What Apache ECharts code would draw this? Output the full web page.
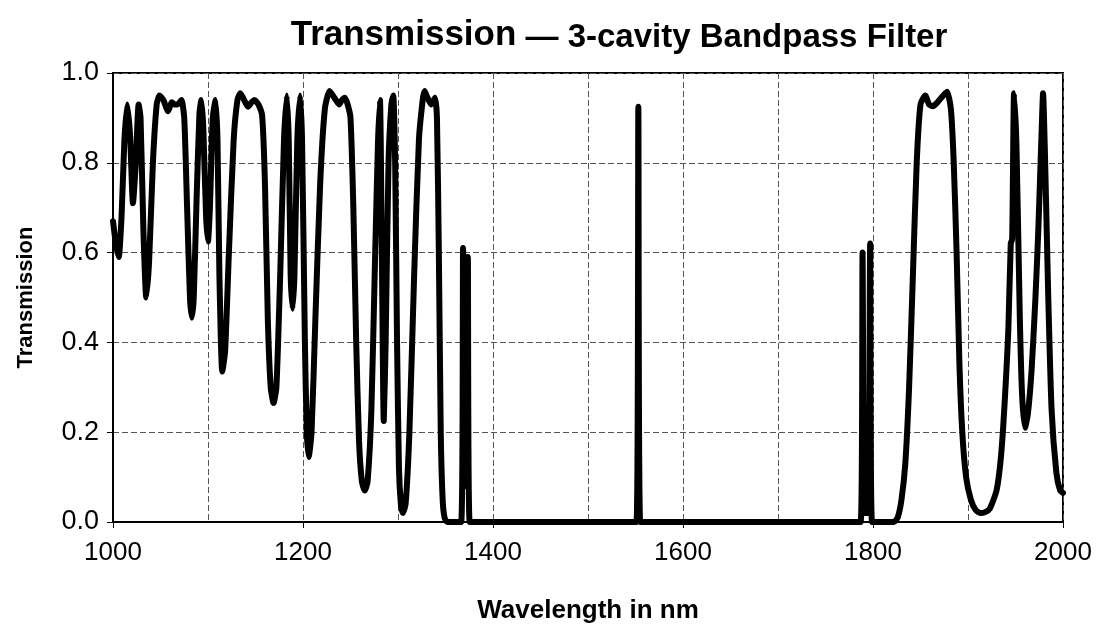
<!DOCTYPE html>
<html>
<head>
<meta charset="utf-8">
<script src="https://cdn.jsdelivr.net/npm/echarts@6/dist/echarts.min.js"></script>
<style>
  html, body { margin: 0; padding: 0; background: #fff; }
  #chart { width: 1102px; height: 629px; }
</style>
</head>
<body>
<div id="chart"></div>
<script>
// wavelength (nm) and transmission
var wavelength = [
  1000, 1003, 1006, 1009, 1012, 1015, 1018, 1021, 1024, 1027, 1029, 1032, 1035, 1038, 1042, 1046, 1049,
  1053, 1058, 1062, 1065, 1068, 1072, 1075, 1078, 1081, 1083, 1085, 1088, 1091, 1093, 1095, 1098, 1100,
  1102, 1105, 1108, 1110, 1112, 1115, 1118, 1122, 1127, 1131, 1134, 1138, 1142, 1146, 1149, 1153, 1157,
  1160, 1163, 1166, 1169, 1172, 1176, 1180, 1183, 1185, 1187, 1189, 1191, 1194, 1197, 1199, 1202, 1204,
  1206, 1209, 1213, 1218, 1223, 1228, 1233, 1238, 1241, 1244, 1247, 1250, 1253, 1256, 1259, 1262, 1265,
  1268, 1272, 1276, 1279, 1281, 1283, 1285, 1287, 1290, 1293, 1295, 1297, 1299, 1301, 1303, 1305, 1308,
  1312, 1317, 1322, 1326, 1328, 1331, 1335, 1339, 1341, 1343, 1345, 1347, 1349, 1352,
  1366.5, 1368.5, 1370.5, 1371.5, 1373.5, 1375.5,
  1551, 1553, 1555,
  1787, 1789, 1791, 1795, 1797, 1799,
  1822, 1826, 1830, 1834, 1838, 1842, 1846, 1850, 1855, 1859, 1863, 1868, 1874, 1878, 1882, 1885, 1888,
  1891, 1894, 1898, 1903, 1908, 1913, 1918, 1923, 1930, 1934, 1937, 1940, 1942.5, 1945, 1946.5, 1948.5,
  1951, 1954.5, 1957, 1960, 1963, 1967, 1971, 1974, 1977.5, 1979, 1981, 1984.5, 1988, 1993, 1997, 2000
];
var transmission = [
  0.67, 0.62, 0.59, 0.68, 0.85, 0.93, 0.86, 0.71, 0.80, 0.93, 0.90, 0.65, 0.50, 0.58, 0.80, 0.93, 0.95,
  0.94, 0.915, 0.935, 0.93, 0.93, 0.94, 0.90, 0.70, 0.50, 0.455, 0.50, 0.72, 0.91, 0.94, 0.88, 0.68, 0.625,
  0.70, 0.90, 0.94, 0.85, 0.55, 0.335, 0.38, 0.60, 0.85, 0.94, 0.955, 0.94, 0.925, 0.935, 0.94, 0.93, 0.905,
  0.75, 0.45, 0.30, 0.265, 0.30, 0.55, 0.85, 0.95, 0.85, 0.55, 0.475, 0.55, 0.85, 0.95, 0.85, 0.40, 0.20,
  0.145, 0.20, 0.45, 0.75, 0.92, 0.96, 0.945, 0.93, 0.94, 0.945, 0.93, 0.90, 0.70, 0.40, 0.18, 0.09, 0.07,
  0.09, 0.25, 0.60, 0.85, 0.94, 0.60, 0.225, 0.40, 0.80, 0.93, 0.95, 0.80, 0.40, 0.12, 0.04, 0.02, 0.04,
  0.20, 0.55, 0.85, 0.94, 0.96, 0.945, 0.93, 0.945, 0.90, 0.60, 0.20, 0.05, 0.01, 0.0,
  0.0, 0.61, 0.08, 0.08, 0.59, 0.0,
  0.0, 0.925, 0.0,
  0.0, 0.60, 0.02, 0.02, 0.62, 0.0,
  0.0, 0.01, 0.05, 0.13, 0.30, 0.55, 0.80, 0.93, 0.95, 0.93, 0.926, 0.935, 0.95, 0.958, 0.92, 0.80, 0.60,
  0.35, 0.20, 0.10, 0.05, 0.027, 0.02, 0.022, 0.03, 0.07, 0.13, 0.21, 0.32, 0.43, 0.62, 0.63, 0.955,
  0.84, 0.46, 0.28, 0.21, 0.24, 0.34, 0.50, 0.65, 0.87, 0.955, 0.82, 0.50, 0.25, 0.11, 0.07, 0.065
];
var xTicks = [1000, 1200, 1400, 1600, 1800, 2000];
var yTicks = [0.0, 0.2, 0.4, 0.6, 0.8, 1.0];

var points = []
for (var i = 0; i < wavelength.length; i++) {
  points.push([wavelength[i], transmission[i]])
}

var chart = echarts.init(document.getElementById('chart'), null, { renderer: 'canvas' })
var gridStyle = { color: '#555', width: 1, type: [6, 3] }

var option = {
  animation: false,
  backgroundColor: '#fff',
  textStyle: { fontFamily: 'Liberation Sans, Arial, sans-serif', color: '#000' },
  title: {
    text: '{a|Transmission}{b| \u2014 3-cavity Bandpass Filter}',
    left: 614,
    top: 12,
    textAlign: 'center',
    textStyle: {
      rich: {
        a: { fontSize: 35, fontWeight: 'bold', color: '#000', fontFamily: 'Liberation Sans, Arial, sans-serif' },
        b: { fontSize: 33, fontWeight: 'bold', color: '#000', fontFamily: 'Liberation Sans, Arial, sans-serif', padding: [4, 0, 0, 0] }
      }
    }
  },
  grid: {
    left: 113, right: 39, top: 73, bottom: 106,
    show: true, borderColor: '#000', borderWidth: 2
  },
  xAxis: {
    type: 'value',
    min: xTicks[0],
    max: xTicks[xTicks.length - 1],
    interval: 200,
    name: 'Wavelength in nm',
    nameLocation: 'middle',
    nameGap: 76,
    nameTextStyle: { fontSize: 26, fontWeight: 'bold', color: '#000' },
    axisLine: { lineStyle: { color: '#000', width: 2 } },
    axisTick: { show: true, length: 6, lineStyle: { color: '#000' } },
    axisLabel: {
      fontSize: 26, color: '#000', margin: 18,
      formatter: function (v) { return String(v) }
    },
    splitLine: { show: true, lineStyle: gridStyle },
    minorTick: { show: false, splitNumber: 2 },
    minorSplitLine: { show: true, lineStyle: gridStyle }
  },
  yAxis: {
    type: 'value',
    min: yTicks[0],
    max: yTicks[yTicks.length - 1],
    interval: 0.2,
    name: 'Transmission',
    nameLocation: 'middle',
    nameGap: 76,
    nameTextStyle: { fontSize: 22, fontWeight: 'bold', color: '#000' },
    axisLine: { show: true, lineStyle: { color: '#000', width: 2 } },
    axisTick: { show: true, length: 6, lineStyle: { color: '#000' } },
    axisLabel: {
      fontSize: 27, color: '#000', margin: 14,
      formatter: function (v) { return v.toFixed(1) }
    },
    splitLine: { show: true, lineStyle: gridStyle }
  },
  series: [{
    type: 'line',
    data: points,
    showSymbol: false,
    smooth: 0.2,
    lineStyle: { color: '#000', width: 6, join: 'round', cap: 'round' },
    clip: true
  }]
}
chart.setOption(option)
</script>
</body>
</html>
